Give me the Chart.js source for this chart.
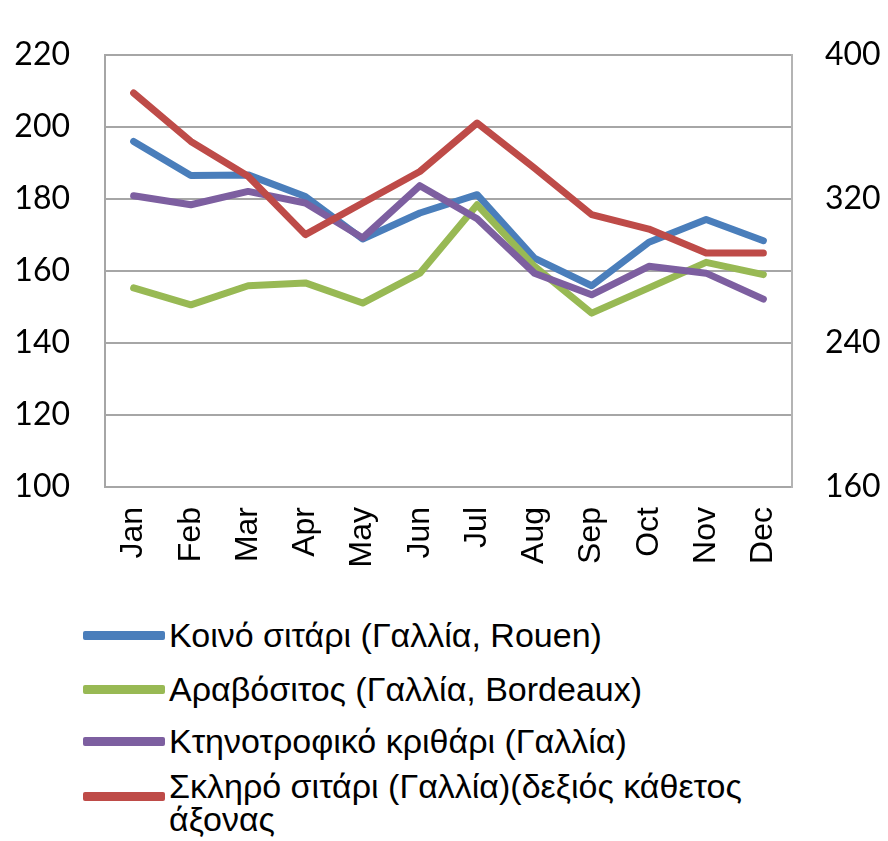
<!DOCTYPE html>
<html>
<head>
<meta charset="utf-8">
<script src="https://cdn.jsdelivr.net/npm/chart.js@4.4.1/dist/chart.umd.min.js"></script>
<style>
  body { margin: 0; background: #fff; }
  #wrap { position: relative; width: 888px; height: 841px; }
  #chart { position: absolute; left: 0; top: 0; }
  .leg { position: absolute; left: 83px; font-family: "Liberation Sans", Arial, sans-serif; font-size: 34px; color: #000; line-height: 33px; }
  .leg .sw { position: absolute; left: 0; width: 82px; height: 9px; border-radius: 2px; }
  .leg .tx { position: absolute; left: 86px; width: 640px; white-space: normal; }
</style>
</head>
<body>
<div id="wrap">
  <canvas id="chart" width="888" height="600"></canvas>
  <div id="legend"></div>
</div>
<script>
const months = ['Jan', 'Feb', 'Mar', 'Apr', 'May', 'Jun', 'Jul', 'Aug', 'Sep', 'Oct', 'Nov', 'Dec'];

const softWheat = [196, 186.5, 186.7, 180.7, 168.9, 176.1, 181.2, 163.6, 155.9, 168, 174.3, 168.4];
const maize = [155.3, 150.6, 155.9, 156.7, 151.1, 159.4, 178.4, 161.3, 148.3, 155.3, 162.4, 159];
const feedBarley = [180.9, 178.4, 182.1, 178.9, 169.2, 183.7, 174.5, 159.4, 153.4, 161.3, 159.4, 152.2];
// durum wheat is on the right-hand axis
const durumWheat = [378.9, 352, 332.6, 300.2, 317.8, 335.3, 362.2, 337.2, 311.3, 303.3, 290, 290];

const seriesNames = [
  'Κοινό σιτάρι (Γαλλία, Rouen)',
  'Αραβόσιτος (Γαλλία, Bordeaux)',
  'Κτηνοτροφικό κριθάρι (Γαλλία)',
  'Σκληρό σιτάρι (Γαλλία)(δεξιός κάθετος άξονας'
];
const colors = ['#4a7ebb', '#98b954', '#7d5fa0', '#be4b48'];

const leftTicks = { min: 100, max: 220, step: 20 };
const rightTicks = { min: 160, max: 400, step: 80 };

function line(i, data, axis) {
  return {
    label: seriesNames[i],
    data: data,
    yAxisID: axis,
    borderColor: colors[i],
    backgroundColor: colors[i],
    borderWidth: 7,
    pointRadius: 0,
    tension: 0,
    borderCapStyle: 'round',
    borderJoinStyle: 'round',
    order: 3 - i
  };
}

const tickFont = { family: 'Lato, "Open Sans", sans-serif', size: 32 };

new Chart(document.getElementById('chart'), {
  type: 'line',
  data: {
    labels: months,
    datasets: [
      line(0, softWheat, 'y'),
      line(1, maize, 'y'),
      line(2, feedBarley, 'y'),
      line(3, durumWheat, 'y1')
    ]
  },
  options: {
    responsive: false,
    animation: false,
    layout: { padding: { top: 55, left: 0, right: 0, bottom: 0 } },
    plugins: { legend: { display: false }, tooltip: { enabled: false } },
    scales: {
      x: {
        offset: true,
        grid: { display: false, drawTicks: false, offset: true },
        border: { display: true, color: '#a6a6a6', width: 2 },
        ticks: {
          color: '#000',
          font: { family: '"Liberation Sans", Arial, sans-serif', size: 32 },
          maxRotation: 90,
          minRotation: 90,
          autoSkip: false,
          padding: 20
        },
        afterFit: (s) => { s.height = 113; }
      },
      y: {
        position: 'left',
        min: leftTicks.min,
        max: leftTicks.max,
        grid: { color: '#a6a6a6', lineWidth: 2, drawTicks: false },
        border: { display: true, color: '#a6a6a6', width: 2 },
        ticks: { stepSize: leftTicks.step, color: '#000', font: tickFont, padding: 35 },
        afterFit: (s) => { s.width = 105; }
      },
      y1: {
        position: 'right',
        min: rightTicks.min,
        max: rightTicks.max,
        grid: { display: false, drawTicks: false },
        border: { display: true, color: '#b4b4b4', width: 2 },
        ticks: { stepSize: rightTicks.step, color: '#000', font: tickFont, padding: 33 },
        afterFit: (s) => { s.width = 96; }
      }
    }
  }
});

// legend below the chart; the two-line entry has its swatch a bit lower
const legendTops = [619, 673, 725, 770];
const swatchTops = [12, 12, 12, 22];
const legend = document.getElementById('legend');
seriesNames.forEach((name, i) => {
  const item = document.createElement('div');
  item.className = 'leg';
  item.style.top = legendTops[i] + 'px';
  item.innerHTML = '<div class="sw" style="top:' + swatchTops[i] + 'px;background:' + colors[i] + '"></div>' +
    '<div class="tx"></div>';
  item.querySelector('.tx').textContent = name;
  legend.appendChild(item);
});
</script>
</body>
</html>
